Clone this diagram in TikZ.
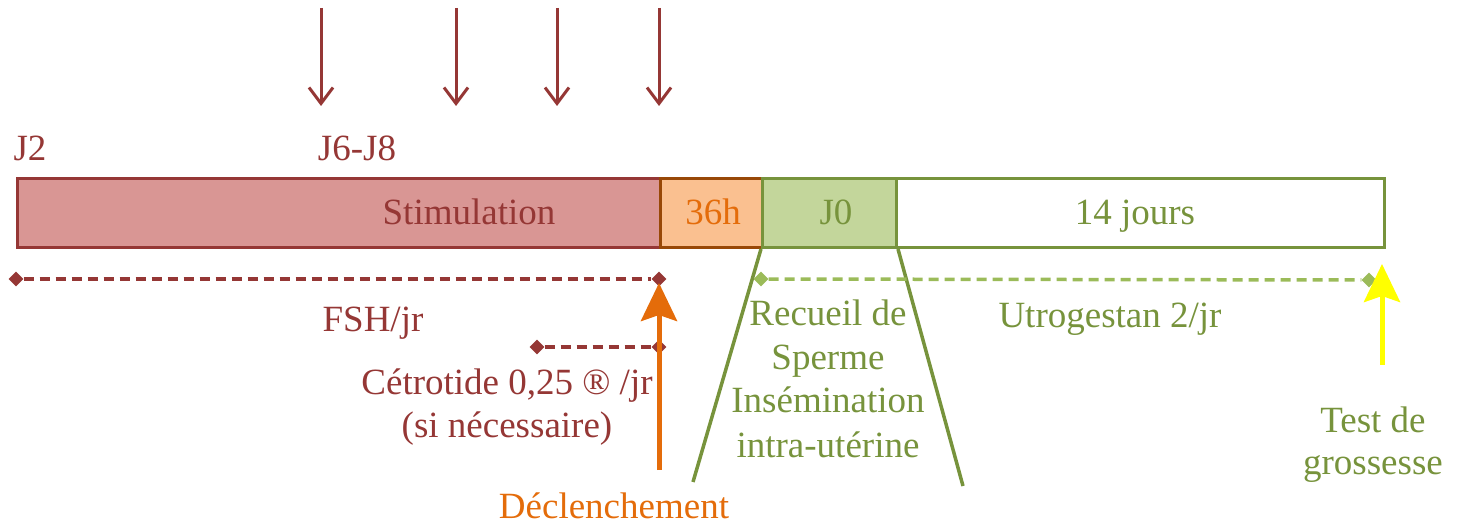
\documentclass[tikz,border=0pt]{standalone}
\usepackage{fontspec}
\setmainfont{Liberation Serif}
\usetikzlibrary{arrows.meta,shapes.geometric}
\definecolor{dred}{HTML}{953735}
\definecolor{stimfill}{HTML}{D99694}
\definecolor{orfill}{HTML}{FAC090}
\definecolor{orline}{HTML}{984807}
\definecolor{ortext}{HTML}{E46C0A}
\definecolor{gfill}{HTML}{C3D69B}
\definecolor{gline}{HTML}{77933C}
\definecolor{gdash}{HTML}{9BBB59}
\definecolor{yel}{HTML}{FFFF00}
\tikzset{
  txt/.style={anchor=base, inner sep=0pt, font=\fontsize{37}{43}\selectfont},
  box/.style={draw, line width=3pt, minimum height=69pt, inner sep=0pt, anchor=north west},
  dia/.style={diamond, fill=#1, inner sep=0pt, minimum size=15pt},
  dline/.style={dashed, dash pattern=on 10pt off 6pt, line width=3.5pt},
  downarrow/.style={dred, line width=3pt, -{Straight Barb[length=16pt,width=24pt,line width=3pt]}},
  bigarrow/.style={line width=5pt, -{Stealth[length=38pt,width=36pt,inset=6pt]}},
}
\begin{document}
\begin{tikzpicture}[x=1pt,y=-1pt]
\useasboundingbox (0,0) rectangle (1462,526);
% top arrows
\foreach \n/\xx in {a1/321,a2/456,a3/557,a4/659}{
  \coordinate (\n s) at (\xx,8);
  \coordinate (\n e) at (\xx,106);
  \draw[downarrow] (\n s) -- (\n e);
}
% labels above
\node[txt, dred] (j2) at (30,161) {J2};
\node[txt, dred] (j6) at (357,161) {J6-J8};
% boxes
\node[box, draw=dred, fill=stimfill, minimum width=643pt] (stim) at (16,177) {};
\node[box, draw=orline, fill=orfill, minimum width=102pt] (h36) at (659,177) {};
\node[box, draw=gline, fill=gfill, minimum width=134pt] (j0) at (761,177) {};
\node[box, draw=gline, fill=white, minimum width=488pt] (j14) at (895,177) {};
\node[txt, dred] (tstim) at (469,225) {Stimulation};
\node[txt, ortext] (t36) at (713,225) {36h};
\node[txt, gline] (tj0) at (836,225) {J0};
\node[txt, gline] (tj14) at (1135,225) {14 jours};
% FSH dashed line
\node[dia=dred] (f1) at (16,279) {};
\node[dia=dred] (f2) at (659,279) {};
\draw[dline, dred] (f1) -- (f2);
\node[txt, dred] (fsh) at (373,332) {FSH/jr};
% Cetrotide line
\node[dia=dred] (c1) at (537,347) {};
\node[dia=dred] (c2) at (659,347) {};
\draw[dline, dred] (c1) -- (c2);
\node[txt, dred] (cet1) at (507,395) {Cétrotide 0,25 ® /jr};
\node[txt, dred] (cet2) at (507,438) {(si nécessaire)};
% orange arrow
\coordinate (ob) at (659,470);
\coordinate (ot) at (659,283);
\draw[bigarrow, ortext] (ob) -- (ot);
\node[txt, ortext] (decl) at (614,518) {Déclenchement};
% green trapezoid lines
\coordinate (gl) at (693,482);
\coordinate (gr) at (963,486);
\draw[gline, line width=3.5pt] (j0.south west) -- (gl);
\draw[gline, line width=3.5pt] (j0.south east) -- (gr);
\node[txt, gline] (r1) at (828,326) {Recueil de};
\node[txt, gline] (r2) at (828,370) {Sperme};
\node[txt, gline] (r3) at (828,413) {Insémination};
\node[txt, gline] (r4) at (828,457) {intra-utérine};
% Utrogestan dashed line
\node[dia=gdash] (u1) at (761,279) {};
\node[dia=gdash] (u2) at (1369,280) {};
\draw[dline, gdash] (u1) -- (u2);
\node[txt, gline] (utro) at (1110,328) {Utrogestan 2/jr};
% yellow arrow
\coordinate (yb) at (1382,365);
\coordinate (yt) at (1382,264);
\draw[bigarrow, yel] (yb) -- (yt);
\node[txt, gline] (test1) at (1373,432) {Test de};
\node[txt, gline] (test2) at (1373,475) {grossesse};
\end{tikzpicture}
\end{document}
